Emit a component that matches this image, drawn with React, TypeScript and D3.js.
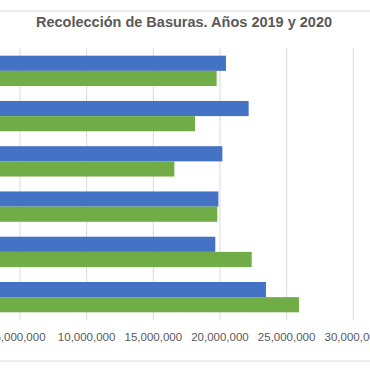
import * as d3 from "d3";
import React from "react";

// categories top to bottom as they appear (labels are cut off in the picture)
const categories = ["Cat. 1", "Cat. 2", "Cat. 3", "Cat. 4", "Cat. 5", "Cat. 6"];
const series = ["2020", "2019"];
const values2020 = [20450000, 22150000, 20180000, 19880000, 19650000, 23450000];
const values2019 = [19750000, 18130000, 16580000, 19800000, 22380000, 25930000];
const xTicks = [0, 5000000, 10000000, 15000000, 20000000, 25000000, 30000000];
const colors = ["#4472C4", "#70AD47"];

const W = 370;
const H = 370;

const App = () => {
  const x = d3.scaleLinear().domain([0, 30000000]).range([-46.7, 353.3]);
  const y = d3
    .scaleBand()
    .domain(categories)
    .range([48, 320])
    .paddingInner(0.33)
    .paddingOuter(0.17);
  const y1 = d3.scaleBand().domain(series).range([0, y.bandwidth()]);
  const fmt = d3.format(",");
  const data = categories.map((c, i) => ({ c, vals: [values2020[i], values2019[i]] }));

  return (
    <svg
      width={W}
      height={H}
      style={{ position: "absolute", left: 0, top: 0, background: "#fff" }}
      fontFamily="'Liberation Sans', Arial, sans-serif"
    >
      <rect x={-10} y={11} width={W + 20} height={350} fill="#fff" stroke="#d9d9d9" />
      <text
        x={184}
        y={27}
        textAnchor="middle"
        fontSize={14.5}
        fontWeight="bold"
        fill="#595959"
      >
        Recolección de Basuras. Años 2019 y 2020
      </text>
      {xTicks.map(t => (
        <line key={t} x1={x(t)} x2={x(t)} y1={48} y2={320} stroke="#d9d9d9" strokeWidth={1} />
      ))}
      {data.map(d => (
        <g key={d.c} transform={`translate(0,${y(d.c)})`}>
          {d.vals.map((v, j) => (
            <rect
              key={j}
              x={x(0)}
              y={y1(series[j])}
              width={x(v) - x(0)}
              height={y1.bandwidth()}
              fill={colors[j]}
            />
          ))}
        </g>
      ))}
      {xTicks.map(t => (
        <text key={t} x={x(t)} y={341} textAnchor="middle" fontSize={11.5} fill="#595959">
          {fmt(t)}
        </text>
      ))}
    </svg>
  );
};

export default App;
